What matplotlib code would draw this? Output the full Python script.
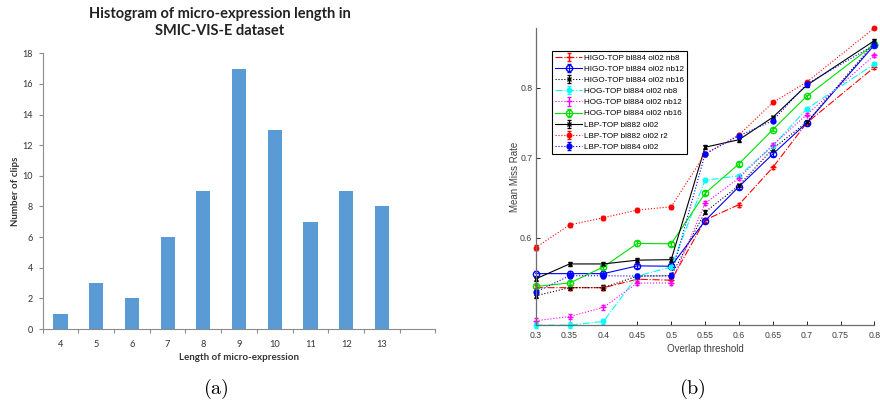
import matplotlib
matplotlib.use("Agg")
import matplotlib.pyplot as plt
from matplotlib.ticker import FixedLocator, NullLocator, FixedFormatter

# ---------------- data: panel (a) ----------------
lengths = ["4", "5", "6", "7", "8", "9", "10", "11", "12", "13"]
clips = [1, 3, 2, 6, 9, 17, 13, 7, 9, 8]

# ---------------- data: panel (b) ----------------
thr = [0.3, 0.35, 0.4, 0.45, 0.5, 0.55, 0.6, 0.65, 0.7, 0.8]
higo_nb8 = [0.5454, 0.5454, 0.5454, 0.5543, 0.5533, 0.6210, 0.6396, 0.6868, 0.7480, 0.8324]
higo_nb12 = [0.5603, 0.5603, 0.5603, 0.5687, 0.5683, 0.6202, 0.6620, 0.7047, 0.7480, 0.8688]
higo_nb16 = [0.5370, 0.5454, 0.5454, 0.5577, 0.5580, 0.6305, 0.6635, 0.7120, 0.7490, 0.8720]
hog_nb8 = [0.5077, 0.5077, 0.5112, 0.5577, 0.5675, 0.6700, 0.6760, 0.7156, 0.7685, 0.8377]
hog_nb12 = [0.5119, 0.5160, 0.5252, 0.5503, 0.5503, 0.6412, 0.6730, 0.7170, 0.7600, 0.8516]
hog_nb16 = [0.5467, 0.5503, 0.5675, 0.5937, 0.5933, 0.6535, 0.6916, 0.7385, 0.7873, 0.8700]
lbp882 = [0.5547, 0.5708, 0.5708, 0.5750, 0.5755, 0.7140, 0.7244, 0.7562, 0.8040, 0.8760]
lbp882_r2 = [0.5890, 0.6152, 0.6237, 0.6330, 0.6369, 0.7049, 0.7310, 0.7780, 0.8090, 0.8975]
lbp884 = [0.5408, 0.5580, 0.5580, 0.5577, 0.5580, 0.7049, 0.7298, 0.7514, 0.8060, 0.8688]
err = 0.0025

series_names = ["HIGO-TOP bl884 ol02 nb8", "HIGO-TOP bl884 ol02 nb12", "HIGO-TOP bl884 ol02 nb16",
                "HOG-TOP bl884 ol02 nb8", "HOG-TOP bl884 ol02 nb12", "HOG-TOP bl884 ol02 nb16",
                "LBP-TOP bl882 ol02", "LBP-TOP bl882 ol02 r2", "LBP-TOP bl884 ol02"]
series_vals = [higo_nb8, higo_nb12, higo_nb16, hog_nb8, hog_nb12, hog_nb16, lbp882, lbp882_r2, lbp884]

fig = plt.figure(figsize=(8.8, 4.03), dpi=100)

# ================= panel (a) =================
axa = fig.add_axes([0.0485, 0.1836, 0.4463, 0.6841])
xpos = list(range(len(lengths)))
axa.bar(xpos, clips, width=0.4, color="#5B9BD5", zorder=2)
axa.set_xlim(-0.5, len(lengths) + 0.5)
axa.set_ylim(0, 18)
axa.set_yticks(range(0, 19, 2))
axa.xaxis.set_major_locator(FixedLocator([i - 0.5 for i in range(len(lengths) + 2)]))
axa.xaxis.set_major_formatter(FixedFormatter([""] * (len(lengths) + 2)))
axa.xaxis.set_minor_locator(FixedLocator(xpos))
axa.xaxis.set_minor_formatter(FixedFormatter(lengths))
axa.tick_params(axis="x", which="minor", length=0, pad=8, labelsize=6.7, labelcolor="#333333")
axa.tick_params(axis="x", which="major", length=3, direction="out", color="#8c8c8c", width=0.8)
axa.tick_params(axis="y", length=3, direction="out", color="#8c8c8c", width=0.8,
                labelsize=6.5, labelcolor="#333333", pad=4)
for lab in axa.get_xticklabels(minor=True) + axa.get_yticklabels():
    lab.set_family("Lato")
for s in ["top", "right"]:
    axa.spines[s].set_visible(False)
for s in ["left", "bottom"]:
    axa.spines[s].set_color("#8c8c8c")
    axa.spines[s].set_linewidth(0.8)
axa.set_xlabel("Length of micro-expression", family="Lato", fontweight="bold",
               fontsize=7, color="#333333", labelpad=3)
axa.set_ylabel("Number of clips", family="Lato", fontweight="bold",
               fontsize=7, color="#333333", labelpad=1.5)
fig.text(0.25, 0.945, "Histogram of micro-expression length in\nSMIC-VIS-E dataset",
         ha="center", va="center", family="Lato", fontweight="bold", fontsize=10.5,
         color="#222222", linespacing=1.3)

# ================= panel (b) =================
axb = fig.add_axes([0.6088, 0.1935, 0.3848, 0.7370])
styles = [
    dict(color="red", ls="-.", marker="+", ms=5, mfc="red"),
    dict(color="blue", ls="-", marker="o", ms=4.5, mfc="none"),
    dict(color="black", ls=":", marker="x", ms=3.5, mfc="black"),
    dict(color="cyan", ls="-.", marker="o", ms=3.2, mfc="cyan"),
    dict(color="magenta", ls=":", marker="+", ms=5, mfc="magenta"),
    dict(color="#00e000", ls="-", marker="o", ms=4.5, mfc="none"),
    dict(color="black", ls="-", marker="x", ms=3.5, mfc="black"),
    dict(color="red", ls=":", marker="o", ms=3.2, mfc="red"),
    dict(color="blue", ls=":", marker="o", ms=3.5, mfc="blue"),
]
for name, vals, st in zip(series_names, series_vals, styles):
    axb.errorbar(thr, vals, yerr=err, color=st["color"], ls=st["ls"], marker=st["marker"],
                 ms=st["ms"], mfc=st["mfc"], mec=st["color"], mew=1.0, lw=0.8,
                 elinewidth=0.8, capsize=1.5, capthick=0.8, label=name, clip_on=False)
axb.set_yscale("log")
axb.set_ylim(0.5077, 0.8975)
axb.set_xlim(0.3, 0.8)
axb.yaxis.set_major_locator(FixedLocator([0.6, 0.7, 0.8]))
axb.yaxis.set_major_formatter(FixedFormatter(["0.6", "0.7", "0.8"]))
axb.yaxis.set_minor_locator(NullLocator())
xt = [0.3, 0.35, 0.4, 0.45, 0.5, 0.55, 0.6, 0.65, 0.7, 0.75, 0.8]
axb.set_xticks(xt)
axb.set_xticklabels([f"{v:g}" for v in xt])
axb.tick_params(direction="in", length=3, width=0.7, color="#262626",
                labelsize=6.3, labelcolor="#404040", pad=4)
axb.tick_params(axis="y", pad=2.5)
for lab in axb.get_xticklabels() + axb.get_yticklabels():
    lab.set_family("Liberation Sans")
for s in ["top", "right"]:
    axb.spines[s].set_visible(False)
for s in ["left", "bottom"]:
    axb.spines[s].set_color("#6e6e6e")
    axb.spines[s].set_linewidth(0.9)
axb.set_xlabel("Overlap threshold", family="Liberation Sans", fontsize=7,
               color="#404040", labelpad=3)
axb.set_ylabel("Mean Miss Rate", family="Liberation Sans", fontsize=7,
               color="#404040", labelpad=0)
leg = axb.legend(loc="upper left", bbox_to_anchor=(0.048, 0.9226),
                 prop={"family": "Liberation Sans", "size": 5.85}, frameon=True,
                 fancybox=False, framealpha=1, edgecolor="black", handlelength=3.3,
                 handletextpad=0.2, labelspacing=0.42, borderpad=0.4, borderaxespad=0)
leg.get_frame().set_linewidth(0.8)

# sub-captions
fig.text(216 / 880, 1 - 389 / 403, r"$\mathrm{(a)}$", ha="center", va="center",
         fontsize=14.5, math_fontfamily="cm")
fig.text(692 / 880, 1 - 389 / 403, r"$\mathrm{(b)}$", ha="center", va="center",
         fontsize=14.5, math_fontfamily="cm")

fig.savefig("out.png", dpi=100)
